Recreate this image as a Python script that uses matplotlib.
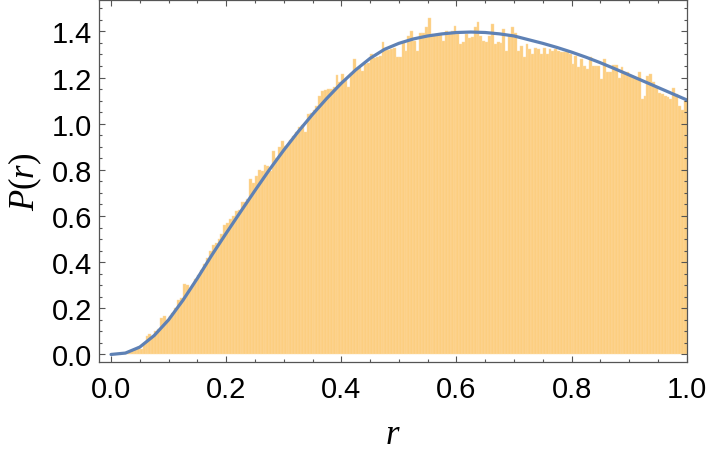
import matplotlib
matplotlib.use('Agg')
import matplotlib.pyplot as plt
from matplotlib.ticker import MultipleLocator, FormatStrFormatter
import numpy as np

# bar heights of the histogram, 200 bins of width 0.005 on [0, 1]
hist_heights = [
    0.000, 0.001, 0.002, 0.004, 0.006, 0.009, 0.013, 0.018, 0.024, 0.032,
    0.022, 0.046, 0.080, 0.090, 0.080, 0.100, 0.110, 0.160, 0.165, 0.150,
    0.165, 0.180, 0.200, 0.235, 0.245, 0.305, 0.300, 0.290, 0.305, 0.325,
    0.345, 0.365, 0.390, 0.420, 0.450, 0.475, 0.485, 0.500, 0.520, 0.560,
    0.570, 0.585, 0.600, 0.620, 0.625, 0.660, 0.660, 0.675, 0.760, 0.745,
    0.775, 0.800, 0.795, 0.820, 0.815, 0.795, 0.880, 0.853, 0.897, 0.925,
    0.905, 0.905, 0.930, 0.945, 0.965, 0.985, 0.995, 0.965, 1.040, 1.045,
    1.060, 1.075, 1.120, 1.140, 1.145, 1.150, 1.150, 1.160, 1.210, 1.180,
    1.215, 1.190, 1.160, 1.220, 1.280, 1.235, 1.240, 1.230, 1.260, 1.265,
    1.300, 1.285, 1.290, 1.295, 1.352, 1.320, 1.320, 1.325, 1.330, 1.290,
    1.290, 1.356, 1.316, 1.381, 1.403, 1.360, 1.316, 1.392, 1.392, 1.417,
    1.460, 1.390, 1.385, 1.390, 1.390, 1.360, 1.400, 1.395, 1.400, 1.424,
    1.388, 1.344, 1.352, 1.388, 1.370, 1.375, 1.417, 1.439, 1.380, 1.359,
    1.352, 1.380, 1.432, 1.345, 1.355, 1.350, 1.412, 1.316, 1.380, 1.417,
    1.392, 1.316, 1.337, 1.287, 1.344, 1.323, 1.301, 1.330, 1.323, 1.300,
    1.330, 1.300, 1.323, 1.316, 1.323, 1.316, 1.310, 1.309, 1.309, 1.300,
    1.260, 1.294, 1.244, 1.280, 1.250, 1.236, 1.287, 1.251, 1.251, 1.251,
    1.193, 1.280, 1.222, 1.225, 1.254, 1.254, 1.200, 1.244, 1.222, 1.222,
    1.208, 1.200, 1.200, 1.222, 1.109, 1.121, 1.208, 1.215, 1.179, 1.157,
    1.135, 1.128, 1.121, 1.114, 1.107, 1.153, 1.130, 1.077, 1.060, 1.100,
]

# the fitted P(r), read every 0.025
curve_r = np.linspace(0, 1, 41)
curve_p = [
    0.000, 0.006, 0.032, 0.082, 0.150, 0.235, 0.330, 0.430, 0.525, 0.618,
    0.710, 0.800, 0.885, 0.965, 1.040, 1.110, 1.175, 1.233, 1.283, 1.322,
    1.348, 1.367, 1.380, 1.389, 1.395, 1.397, 1.395, 1.389, 1.380, 1.364,
    1.348, 1.330, 1.310, 1.288, 1.264, 1.238, 1.211, 1.184, 1.157, 1.130,
    1.103,
]

bar_color = '#FCCE80'
bar_edge = '#FDDCA6'
line_color = '#5E81B5'
frame_color = '#555555'

plt.rcParams['font.family'] = ['Liberation Sans', 'DejaVu Sans']
plt.rcParams['mathtext.fontset'] = 'custom'
plt.rcParams['mathtext.it'] = 'Liberation Serif:italic'
plt.rcParams['mathtext.rm'] = 'Liberation Serif'

fig = plt.figure(figsize=(7.1, 4.56), dpi=100)
ax = fig.add_axes([0.1399, 0.2033, 0.8273, 0.7956])

edges = np.linspace(0, 1, len(hist_heights) + 1)
ax.bar(edges[:-1], hist_heights, width=np.diff(edges), align='edge',
       color=bar_color, edgecolor=bar_edge, linewidth=0.3)
ax.plot(curve_r, curve_p, color=line_color, lw=2.3, solid_capstyle='round',
        solid_joinstyle='round')

ax.set_xlim(-0.0203, 1.0)
ax.set_ylim(-0.034, 1.538)
ax.xaxis.set_major_locator(MultipleLocator(0.2))
ax.xaxis.set_minor_locator(MultipleLocator(0.05))
ax.yaxis.set_major_locator(MultipleLocator(0.2))
ax.yaxis.set_minor_locator(MultipleLocator(0.05))
ax.xaxis.set_major_formatter(FormatStrFormatter('%.1f'))
ax.yaxis.set_major_formatter(FormatStrFormatter('%.1f'))

ax.tick_params(which='both', direction='in', top=True, right=True,
               color=frame_color, width=0.8, labelsize=21)
ax.tick_params(which='major', length=4.5)
ax.tick_params(which='minor', length=2.5)
ax.tick_params(axis='x', pad=9)
ax.tick_params(axis='y', pad=5)
for side in ax.spines.values():
    side.set_color(frame_color)
    side.set_linewidth(0.9)

ax.set_xlabel('$r$', fontsize=25, labelpad=10)
ax.set_ylabel('$P(r)$', fontsize=25, labelpad=6)

fig.savefig('out.png', dpi=100)
